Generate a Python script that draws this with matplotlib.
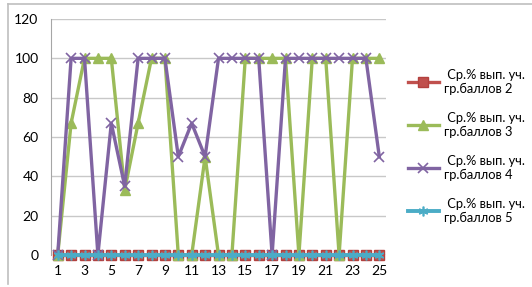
import matplotlib.pyplot as plt
from matplotlib.lines import Line2D

# data
x = list(range(1, 26))
s2 = [0] * 25
s3 = [0, 67, 100, 100, 100, 33, 67, 100, 100, 0, 0, 50, 0, 0, 100,
      100, 100, 100, 0, 100, 100, 0, 100, 100, 100]
s4 = [0, 100, 100, 0, 67, 35, 100, 100, 100, 50, 67, 50, 100, 100, 100,
      100, 0, 100, 100, 100, 100, 100, 100, 100, 50]
s5 = [0] * 25
labels = [' Ср.% вып. уч.\nгр.баллов 2', ' Ср.% вып. уч.\nгр.баллов 3',
          ' Ср.% вып. уч.\nгр.баллов 4', ' Ср.% вып. уч.\nгр.баллов 5']
xticks = list(range(1, 26, 2))
yticks = [0, 20, 40, 60, 80, 100, 120]

plt.rcParams['font.family'] = ['Lato', 'DejaVu Sans']
fig = plt.figure(figsize=(5.32, 2.87), dpi=100)

# chart frame: only top and left edges are visible
fig.add_artist(Line2D([8 / 532, 1], [1 - 4 / 287, 1 - 4 / 287],
                      transform=fig.transFigure, color='#bfbfbf', lw=1.2))
fig.add_artist(Line2D([8 / 532, 8 / 532], [1 - 4 / 287, 3 / 287],
                      transform=fig.transFigure, color='#bfbfbf', lw=1.2))

ax = fig.add_axes([51 / 532, 32 / 287, 335 / 532, 236 / 287])

lw = 2.4
ax.plot(x, s2, color='#C0504D', lw=lw, marker='s', ms=7.5, mec='#b3413e',
        label=labels[0], zorder=3, clip_on=False)
ax.plot(x, s3, color='#9BBB59', lw=lw, marker='^', ms=7, label=labels[1],
        zorder=4, clip_on=False)
ax.plot(x, s4, color='#8064A2', lw=lw, marker='x', ms=7, mew=1.2,
        label=labels[2], zorder=5, clip_on=False)
ax.plot(x, s5, color='#4BACC6', lw=lw + 0.4, marker=(6, 2, 0), ms=7, mew=1.2,
        label=labels[3], zorder=6, clip_on=False)

ax.set_xlim(0.5, 25.5)
ax.set_ylim(0, 120)
ax.set_xticks(xticks)
ax.set_yticks(yticks)
ax.grid(axis='y', color='#c8c8c8', lw=1)
ax.set_axisbelow(True)
for side in ['top', 'right', 'bottom']:
    ax.spines[side].set_visible(False)
ax.spines['left'].set_color('#a6a6a6')
ax.tick_params(axis='x', length=0, labelsize=10, pad=7)
ax.tick_params(axis='y', length=0, labelsize=10, pad=9)

leg = fig.legend(loc='center left', bbox_to_anchor=(396 / 532, 0.49),
                 frameon=False, fontsize=9.3, handlelength=2.4,
                 labelspacing=1.3, handletextpad=0.45)

plt.savefig('out.png', dpi=100)
